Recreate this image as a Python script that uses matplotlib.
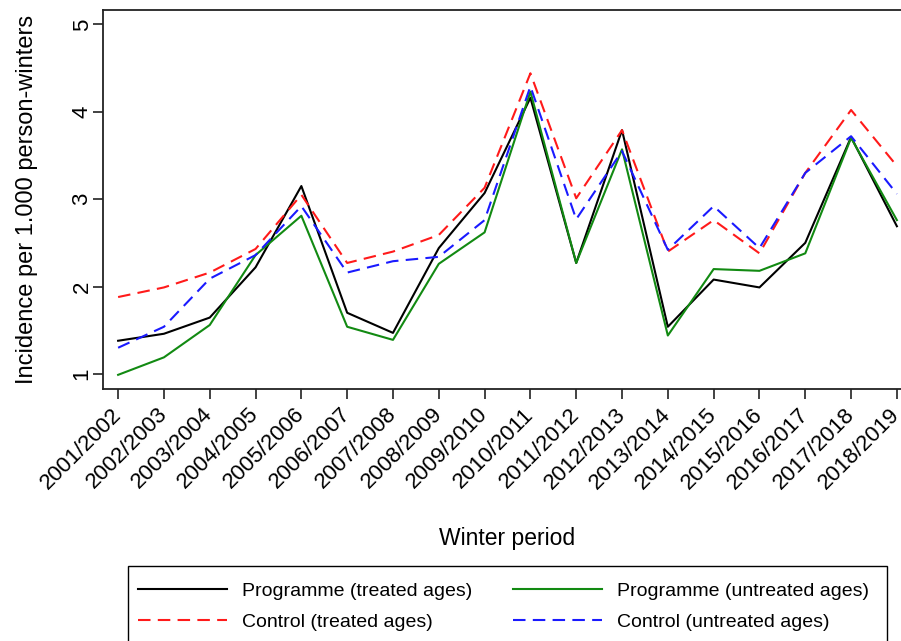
import matplotlib
matplotlib.use('Agg')
import matplotlib.pyplot as plt
from matplotlib.patches import Rectangle
import numpy as np

plt.rcParams['font.family'] = ['Liberation Sans', 'DejaVu Sans']

seasons = ['2001/2002', '2002/2003', '2003/2004', '2004/2005', '2005/2006',
           '2006/2007', '2007/2008', '2008/2009', '2009/2010', '2010/2011',
           '2011/2012', '2012/2013', '2013/2014', '2014/2015', '2015/2016',
           '2016/2017', '2017/2018', '2018/2019']

# incidence per 1.000 person-winters
prog_treated = [1.38, 1.46, 1.645, 2.22, 3.15, 1.70, 1.47, 2.44, 3.07, 4.16,
                2.27, 3.79, 1.54, 2.08, 1.99, 2.50, 3.71, 2.69]
prog_untreated = [0.99, 1.19, 1.56, 2.36, 2.81, 1.54, 1.39, 2.26, 2.62, 4.23,
                  2.27, 3.57, 1.44, 2.20, 2.18, 2.38, 3.70, 2.76]
ctrl_treated = [1.88, 1.99, 2.16, 2.43, 3.05, 2.27, 2.40, 2.59, 3.13, 4.44,
                3.01, 3.79, 2.40, 2.76, 2.38, 3.30, 4.02, 3.38]
ctrl_untreated = [1.30, 1.54, 2.09, 2.36, 2.92, 2.16, 2.29, 2.34, 2.76, 4.29,
                  2.77, 3.55, 2.42, 2.92, 2.44, 3.30, 3.72, 3.06]

W, H = 901, 641
fig = plt.figure(figsize=(W / 100, H / 100), dpi=100)
ax = fig.add_axes([103 / W, (H - 389) / H, 809 / W, 379 / H])

x = np.arange(len(seasons))
dash = (6, 3.5)
l1, = ax.plot(x, prog_treated, color='black', lw=1.5, label='Programme (treated ages)')
l2, = ax.plot(x, prog_untreated, color='#128a12', lw=1.5, label='Programme (untreated ages)')
l3, = ax.plot(x, ctrl_treated, color='#ff1a1a', lw=1.5, dashes=dash, label='Control (treated ages)')
l4, = ax.plot(x, ctrl_untreated, color='#1a1aff', lw=1.5, dashes=dash, label='Control (untreated ages)')

ax.set_xlim(-0.33, len(seasons) - 1 + 0.33)
ax.set_ylim(0.828, 5.164)
ax.set_yticks([1, 2, 3, 4, 5])
ax.set_xticks(x)
ax.set_xticklabels(seasons, rotation=45, ha='right', va='center', rotation_mode='anchor')
ax.tick_params(axis='both', labelsize=16, length=7, width=1.2, color='#222222')
ax.tick_params(axis='x', pad=9)
for lab in ax.get_yticklabels():
    lab.set_rotation(90)
    lab.set_va('center')
ax.tick_params(axis='y', pad=0.5)

for sp in ax.spines.values():
    sp.set_linewidth(1.3)
    sp.set_color('#222222')

ax.set_ylabel('Incidence per 1.000 person-winters', fontsize=17)
ax.yaxis.set_label_coords(-0.080, 0.5)
fig.text(507 / W, 1 - 538 / H, 'Winter period', fontsize=16.5, ha='center', va='center')

# legend box drawn separately, entries placed inside it
fig.patches.append(Rectangle((128 / W, 1 - 652 / H), 759 / W, 86 / H,
                             transform=fig.transFigure, facecolor='white',
                             edgecolor='black', lw=1.0, zorder=0))
leg = fig.legend(handles=[l1, l3, l2, l4], ncol=2, loc='upper left',
                 bbox_to_anchor=(138 / W, 1 - 582 / H - 0.3, 731 / W, 0.3),
                 mode='expand', fontsize=14, handlelength=4.6, handletextpad=0.75,
                 labelspacing=0.72, borderpad=0, frameon=False, borderaxespad=0)

fig.savefig('out.png', dpi=100)
